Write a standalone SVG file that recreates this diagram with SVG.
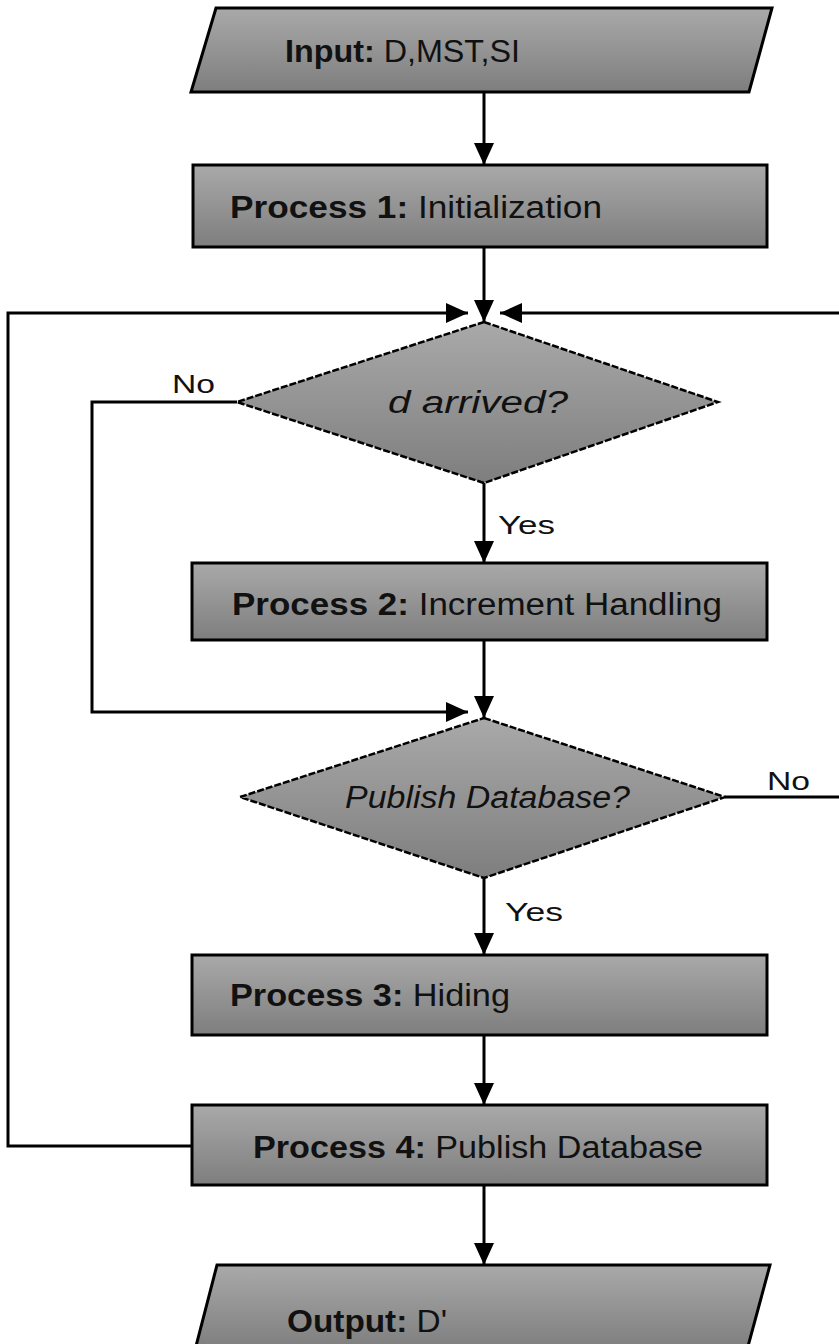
<svg xmlns="http://www.w3.org/2000/svg" width="839" height="1344" viewBox="0 0 839 1344">
<style>
.shape{fill:url(#g);stroke:#000;stroke-width:3}
.dia{fill:url(#g);stroke:#000;stroke-width:2.5;stroke-dasharray:7 2}
.t{font-family:"Liberation Sans",Arial,sans-serif;font-size:31px;fill:#111}
.b{font-weight:bold}
.i{font-style:italic}
.lbl{font-family:"Liberation Sans",Arial,sans-serif;font-size:26px;fill:#111}
.c{fill:none;stroke:#000;stroke-width:3}
</style>
<defs>
<linearGradient id="g" x1="0" y1="0" x2="0" y2="1">
<stop offset="0" stop-color="#a9a9a9"/>
<stop offset="1" stop-color="#7e7e7e"/>
</linearGradient>
<marker id="a" markerUnits="userSpaceOnUse" markerWidth="22" markerHeight="20" viewBox="0 0 22 20" refX="22" refY="10" orient="auto">
<path d="M0,0 L22,10 L0,20 Z" fill="#000"/>
</marker>
</defs>
<g id="connectors">
<path class="c" d="M484,92 V165" marker-end="url(#a)"/>
<path class="c" d="M484,247 V322" marker-end="url(#a)"/>
<path class="c" d="M193,1146 H8 V313 H468" marker-end="url(#a)"/>
<path class="c" d="M725,797 H845 V313 H500" marker-end="url(#a)" stroke="#2a2a2a"/>
<path class="c" d="M237,402 H92 V712 H468" marker-end="url(#a)"/>
<path class="c" d="M484,483 V563" marker-end="url(#a)"/>
<path class="c" d="M484,640 V718" marker-end="url(#a)"/>
<path class="c" d="M484,878 V955" marker-end="url(#a)"/>
<path class="c" d="M484,1035 V1105" marker-end="url(#a)"/>
<path class="c" d="M484,1185 V1265" marker-end="url(#a)"/>
<text class="lbl" x="172" y="393" textLength="43" lengthAdjust="spacingAndGlyphs">No</text>
<text class="lbl" x="498" y="534" textLength="57" lengthAdjust="spacingAndGlyphs">Yes</text>
<text class="lbl" x="767" y="790" textLength="43" lengthAdjust="spacingAndGlyphs">No</text>
<text class="lbl" x="505" y="921" textLength="58" lengthAdjust="spacingAndGlyphs">Yes</text>
</g>
<g id="input">
<polygon class="shape" points="216,8 772,8 749,92 191,92"/>
<text class="t" x="285" y="62" textLength="235" lengthAdjust="spacingAndGlyphs"><tspan class="b">Input:</tspan> D,MST,SI</text>
</g>
<g id="p1">
<rect class="shape" x="193" y="165" width="574" height="82"/>
<text class="t" x="230" y="218" textLength="372" lengthAdjust="spacingAndGlyphs"><tspan class="b">Process 1:</tspan> Initialization</text>
</g>
<g id="d1">
<polygon class="dia" points="484,322 718,402 484,483 237,402"/>
<text class="t i" x="388" y="413" textLength="180" lengthAdjust="spacingAndGlyphs">d arrived?</text>
</g>
<g id="p2">
<rect class="shape" x="192" y="563" width="575" height="77"/>
<text class="t" x="232" y="615" textLength="490" lengthAdjust="spacingAndGlyphs"><tspan class="b">Process 2:</tspan> Increment Handling</text>
</g>
<g id="d2">
<polygon class="dia" points="484,718 725,797 484,878 240,797"/>
<text class="t i" x="345" y="808" textLength="285" lengthAdjust="spacingAndGlyphs">Publish Database?</text>
</g>
<g id="p3">
<rect class="shape" x="192" y="955" width="575" height="80"/>
<text class="t" x="230" y="1006" textLength="280" lengthAdjust="spacingAndGlyphs"><tspan class="b">Process 3:</tspan> Hiding</text>
</g>
<g id="p4">
<rect class="shape" x="192" y="1105" width="575" height="80"/>
<text class="t" x="253" y="1158" textLength="450" lengthAdjust="spacingAndGlyphs"><tspan class="b">Process 4:</tspan> Publish Database</text>
</g>
<g id="output">
<polygon class="shape" points="217,1265 770,1265 747,1350 195,1350"/>
<text class="t" x="287" y="1332" textLength="160" lengthAdjust="spacingAndGlyphs"><tspan class="b">Output:</tspan> D'</text>
</g>
</svg>
